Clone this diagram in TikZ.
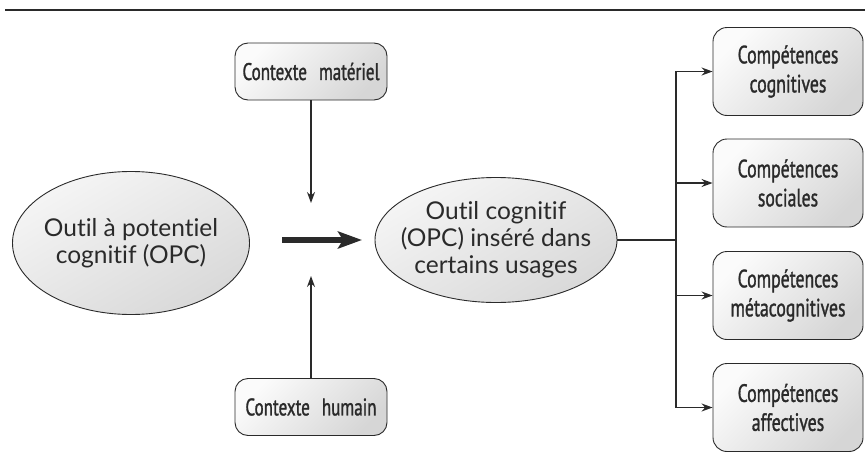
\documentclass[tikz,border=0pt]{standalone}
\usepackage{fontspec}
\newfontfamily\ovalfont[Ligatures={NoCommon}]{Lato}
\newfontfamily\boxfont[FakeStretch=0.71,FakeBold=1.2]{PT Sans}
\usetikzlibrary{shapes.geometric,arrows.meta}
\definecolor{ink}{HTML}{2A2A2A}
\tikzset{x=1pt,y=-1pt,
    oval/.style={ellipse,draw=ink,line width=0.9pt,
        top color=gray!8,bottom color=gray!30,shading angle=30,
        inner xsep=-20pt,inner ysep=0pt,align=center,text=ink,
        font=\ovalfont\fontsize{24.5}{27}\selectfont},
    rbox/.style={rectangle,rounded corners=14pt,draw=ink,line width=0.9pt,
        top color=gray!3,bottom color=gray!32,shading angle=45,
        minimum width=150pt,minimum height=88pt,align=center,text=ink,
        font=\boxfont\fontsize{25}{29}\selectfont},
    ctxbox/.style={rbox,rounded corners=13pt,minimum width=152pt,minimum height=57pt,
        font=\boxfont\fontsize{24}{28}\selectfont},
    link/.style={draw=ink,line width=1.2pt},
    tip/.style={link,-{Stealth[length=11pt,width=8pt]}},
    flow/.style={draw=ink,line width=5.5pt,-{Stealth[length=24pt,width=17pt,inset=5pt]}},
    }
\begin{document}
\begin{tikzpicture}
\useasboundingbox (0,0) rectangle (865,463);
\draw[ink,line width=2pt] (5,10) -- (865,10);
% the two ovals
\node[oval,minimum width=237pt,minimum height=143pt] (opc) at (131,243)
    {Outil à potentiel\\cognitif (OPC)};
\node[oval,minimum width=242pt,minimum height=125pt] (usage) at (496,240)
    {Outil cognitif\\(OPC) inséré dans\\certains usages};
% contexts
\node[ctxbox] (matos) at (311,71.5) {Contexte\enspace matériel};
\node[ctxbox] (humain) at (311,407) {Contexte\enspace humain};
\coordinate (matend) at (311,203);
\coordinate (humend) at (311,276);
\draw[tip] (matos) -- (matend);
\draw[tip] (humain) -- (humend);
\coordinate (flowstart) at (282,240);
\coordinate (flowend) at (362,240);
\draw[flow] (flowstart) -- (flowend);
% competences
\node[rbox] (cog) at (788,71.5) {Compétences\\cognitives};
\node[rbox] (soc) at (788,183) {Compétences\\sociales};
\node[rbox] (meta) at (788,295.5) {Compétences\\métacognitives};
\node[rbox] (aff) at (788,407.5) {Compétences\\affectives};
\coordinate (bus) at (676,240);
\draw[link] (usage.east) -- (bus);
\foreach \c in {cog,soc,meta,aff}
    \draw[tip] (bus) |- (\c.west);
\end{tikzpicture}
\end{document}
